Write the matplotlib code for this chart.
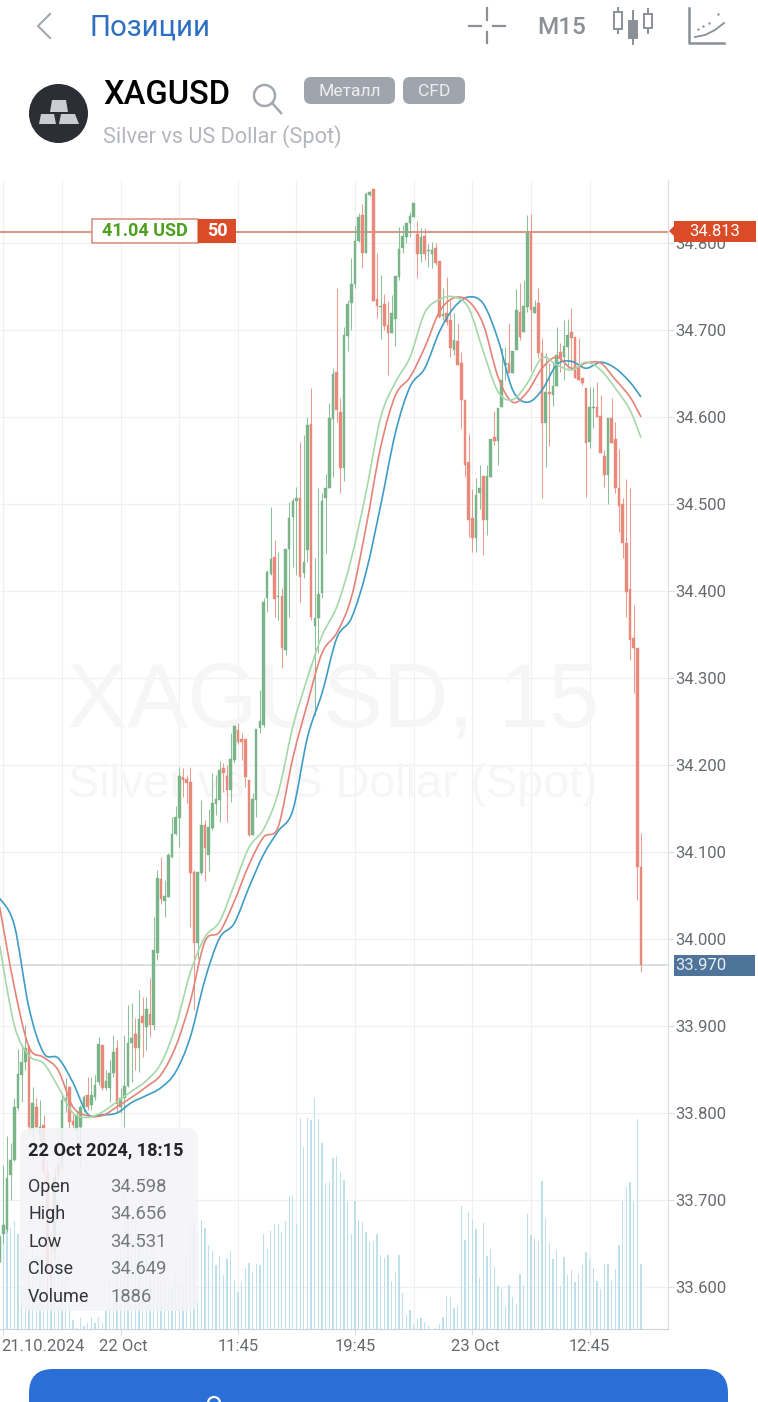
import numpy as np
import matplotlib
matplotlib.use('Agg')
import matplotlib.pyplot as plt
from matplotlib.patches import Circle, FancyBboxPatch, PathPatch, Polygon, Rectangle
from matplotlib.path import Path
from matplotlib.transforms import ScaledTranslation

plt.rcParams['font.family'] = ['Roboto', 'DejaVu Sans']

# candles, one per 15 minutes
opens = [33.629,33.661,33.666,33.729,33.746,33.806,33.844,33.859,33.876,33.781,
	33.807,33.775,33.786,33.732,33.620,33.643,33.740,33.740,33.814,33.830,
	33.791,33.781,33.784,33.807,33.821,33.809,33.818,33.836,33.878,33.829,
	33.829,33.846,33.875,33.807,33.817,33.831,33.881,33.891,33.875,33.912,
	33.899,33.914,33.901,33.984,34.069,34.044,34.048,34.094,34.121,34.139,
	34.186,34.184,34.180,34.077,33.995,34.076,34.131,34.097,34.128,34.155,
	34.160,34.197,34.187,34.171,34.206,34.240,34.230,34.230,34.183,34.120,
	34.160,34.243,34.246,34.392,34.420,34.439,34.393,34.394,34.332,34.448,
	34.485,34.503,34.507,34.421,34.447,34.592,34.360,34.369,34.398,34.507,
	34.518,34.598,34.652,34.606,34.541,34.693,34.731,34.753,34.802,34.832,
	34.789,34.855,34.862,34.736,34.726,34.730,34.706,34.697,34.713,34.761,
	34.794,34.807,34.823,34.830,34.810,34.787,34.808,34.791,34.787,34.794,
	34.779,34.716,34.720,34.711,34.677,34.687,34.662,34.620,34.548,34.484,
	34.461,34.513,34.532,34.482,34.531,34.577,34.572,34.611,34.660,34.662,
	34.651,34.677,34.721,34.698,34.726,34.812,34.720,34.731,34.674,34.593,
	34.629,34.625,34.636,34.675,34.669,34.680,34.698,34.692,34.656,34.645,
	34.633,34.571,34.610,34.611,34.601,34.555,34.533,34.599,34.575,34.518,
	34.500,34.455,34.402,34.346,34.335,34.083]
highs = [33.660,33.740,33.774,33.766,33.817,33.874,33.879,33.901,33.878,33.830,
	33.817,33.815,33.798,33.746,33.654,33.739,33.781,33.821,33.840,33.831,
	33.801,33.804,33.809,33.821,33.841,33.841,33.844,33.887,33.878,33.849,
	33.861,33.890,33.884,33.829,33.890,33.924,33.927,33.909,33.941,33.933,
	33.933,33.955,34.025,34.079,34.094,34.068,34.099,34.140,34.153,34.198,
	34.197,34.189,34.198,34.079,34.077,34.160,34.137,34.149,34.191,34.189,
	34.205,34.202,34.200,34.237,34.246,34.248,34.237,34.230,34.183,34.168,
	34.241,34.286,34.392,34.424,34.497,34.459,34.445,34.403,34.448,34.502,
	34.507,34.520,34.571,34.579,34.600,34.633,34.438,34.518,34.513,34.534,
	34.616,34.656,34.748,34.622,34.704,34.735,34.783,34.820,34.835,34.845,
	34.859,34.860,34.862,34.789,34.763,34.741,34.733,34.740,34.762,34.818,
	34.821,34.823,34.836,34.846,34.825,34.817,34.817,34.799,34.801,34.800,
	34.779,34.748,34.761,34.735,34.720,34.708,34.675,34.620,34.580,34.517,
	34.530,34.545,34.532,34.545,34.575,34.607,34.610,34.679,34.681,34.708,
	34.676,34.747,34.754,34.758,34.832,34.833,34.735,34.748,34.691,34.674,
	34.662,34.663,34.704,34.685,34.711,34.713,34.725,34.692,34.691,34.645,
	34.633,34.634,34.634,34.640,34.625,34.562,34.599,34.622,34.594,34.563,
	34.507,34.529,34.518,34.384,34.335,34.122]
lows = [33.629,33.651,33.663,33.700,33.745,33.803,33.813,33.849,33.775,33.746,
	33.781,33.752,33.729,33.585,33.585,33.631,33.711,33.735,33.801,33.781,
	33.781,33.758,33.738,33.801,33.803,33.803,33.815,33.832,33.827,33.827,
	33.813,33.841,33.801,33.800,33.784,33.830,33.836,33.849,33.847,33.864,
	33.872,33.887,33.895,33.976,34.040,34.025,34.048,34.093,34.120,34.106,
	34.163,34.156,34.014,33.918,33.977,34.074,34.067,34.078,34.125,34.143,
	34.135,34.169,34.135,34.158,34.202,34.224,34.206,34.175,34.118,34.120,
	34.140,34.237,34.244,34.376,34.418,34.370,34.367,34.312,34.326,34.370,
	34.428,34.418,34.387,34.415,34.433,34.367,34.257,34.329,34.392,34.444,
	34.518,34.531,34.594,34.513,34.527,34.676,34.700,34.748,34.801,34.771,
	34.789,34.854,34.733,34.714,34.690,34.700,34.648,34.697,34.682,34.757,
	34.789,34.800,34.807,34.830,34.760,34.778,34.780,34.772,34.771,34.775,
	34.714,34.711,34.706,34.669,34.671,34.660,34.586,34.531,34.462,34.445,
	34.445,34.494,34.441,34.464,34.531,34.568,34.545,34.611,34.642,34.651,
	34.651,34.677,34.689,34.698,34.721,34.653,34.720,34.668,34.507,34.543,
	34.567,34.613,34.636,34.652,34.642,34.656,34.657,34.645,34.642,34.637,
	34.508,34.564,34.587,34.600,34.559,34.520,34.500,34.570,34.513,34.468,
	34.438,34.370,34.321,34.283,34.045,33.962]
closes = [33.658,33.671,33.725,33.746,33.807,33.845,33.859,33.875,33.784,33.812,
	33.784,33.784,33.732,33.620,33.608,33.726,33.729,33.815,33.817,33.790,
	33.786,33.797,33.807,33.818,33.807,33.821,33.832,33.879,33.829,33.837,
	33.846,33.870,33.810,33.817,33.831,33.880,33.886,33.875,33.908,33.904,
	33.919,33.901,33.987,34.070,34.046,34.049,34.097,34.121,34.140,34.187,
	34.183,34.179,34.076,33.995,34.077,34.131,34.105,34.129,34.156,34.161,
	34.194,34.191,34.171,34.207,34.245,34.226,34.226,34.186,34.120,34.161,
	34.241,34.251,34.387,34.422,34.437,34.391,34.394,34.335,34.448,34.484,
	34.503,34.507,34.416,34.433,34.591,34.370,34.369,34.397,34.503,34.518,
	34.599,34.649,34.608,34.541,34.694,34.730,34.753,34.802,34.830,34.789,
	34.856,34.859,34.733,34.728,34.728,34.705,34.697,34.720,34.762,34.793,
	34.808,34.823,34.831,34.846,34.787,34.807,34.787,34.792,34.792,34.777,
	34.715,34.718,34.709,34.679,34.689,34.660,34.620,34.545,34.482,34.461,
	34.510,34.518,34.482,34.532,34.575,34.572,34.610,34.642,34.662,34.651,
	34.676,34.723,34.692,34.728,34.812,34.723,34.726,34.674,34.593,34.629,
	34.626,34.636,34.671,34.668,34.682,34.694,34.691,34.645,34.642,34.639,
	34.570,34.611,34.611,34.600,34.559,34.533,34.599,34.570,34.518,34.498,
	34.455,34.399,34.344,34.335,34.083,33.970]
volumes = [1133,1133,1077,1114,1188,1052,875,949,765,1059,
	802,802,949,912,728,912,838,691,765,324,
	103,11,121,29,66,132,66,132,66,213,
	581,765,802,1059,1500,1243,1206,1206,1059,912,
	912,802,912,765,544,691,452,452,618,471,
	489,802,1188,1177,1077,1206,1114,923,864,702,
	802,592,776,864,537,404,515,673,728,629,
	721,702,1052,882,1085,1162,1162,1066,1195,1463,
	1478,1162,2328,2004,2328,2302,2552,2317,2052,1611,
	1618,1886,1905,1732,1640,1401,1048,1408,1199,1177,
	1070,956,974,1048,813,783,813,526,625,813,
	397,158,206,59,114,121,77,37,5,11,
	59,132,368,357,228,257,1353,985,1291,1199,
	1107,563,1169,809,886,684,471,445,250,489,
	349,279,610,489,1272,1041,996,967,1636,1221,
	949,776,875,471,794,599,655,515,610,702,
	846,776,673,526,445,713,721,544,666,927,
	1408,1570,1622,1408,2320,713]

# the three moving averages, read at every fourth bar and at the last one
ma_bars = list(range(0, 173, 4)) + [175]
ma_blue = [34.047,34.016,33.921,33.869,33.863,33.835,33.799,33.798,33.800,33.812,
	33.820,33.829,33.847,33.887,33.953,34.001,34.018,34.059,34.097,34.124,
	34.148,34.232,34.283,34.346,34.369,34.422,34.499,34.582,34.635,34.656,
	34.698,34.726,34.738,34.730,34.689,34.631,34.617,34.631,34.660,34.664,
	34.656,34.663,34.656,34.640,34.623]
ma_red = [34.037,33.945,33.876,33.864,33.849,33.807,33.797,33.797,33.807,33.818,
	33.830,33.844,33.876,33.928,33.997,34.008,34.043,34.085,34.117,34.129,
	34.208,34.271,34.329,34.352,34.393,34.474,34.566,34.625,34.646,34.680,
	34.721,34.737,34.733,34.706,34.646,34.617,34.629,34.656,34.669,34.656,
	34.662,34.662,34.643,34.623,34.600]
ma_green = [33.993,33.901,33.866,33.857,33.830,33.800,33.795,33.801,33.813,33.825,
	33.837,33.857,33.899,33.961,34.002,34.020,34.062,34.105,34.126,34.168,
	34.244,34.300,34.349,34.382,34.438,34.514,34.600,34.640,34.669,34.720,
	34.735,34.738,34.725,34.675,34.629,34.620,34.639,34.668,34.660,34.654,
	34.663,34.654,34.633,34.608,34.576]

price_ticks = [33.6,33.7,33.8,33.9,34.0,34.1,34.2,34.3,34.4,34.5,34.6,34.7,34.8]
time_ticks = [1,33,65,97,129,161]
time_labels = ['21.10.2024','22 Oct','11:45','19:45','23 Oct','12:45']
grid_bars = [1,17,33,49,65,81,97,113,129,145,161]
order_price = 34.813
last_price = 33.970
info_names = ['Open','High','Low','Close','Volume']
info_values = ['34.598','34.656','34.531','34.649','1886']

W, H = 758, 1402
fig = plt.figure(figsize=(W/100, H/100), dpi=100, facecolor='white')

def rect_px(x0, y0, x1, y1):
	return [x0/W, 1-y1/H, (x1-x0)/W, (y1-y0)/H]

def smooth_line(ax, xs, ys, color):
	# the app draws its averages as curves, so bend the line through the read points
	xs = np.array(xs, dtype=float)
	ys = np.array(ys, dtype=float)
	verts = [(xs[0], ys[0])]
	codes = [Path.MOVETO]
	for i in range(len(xs)-1):
		a = max(i-1, 0)
		b = min(i+2, len(xs)-1)
		verts.append((xs[i]+(xs[i+1]-xs[a])/6, ys[i]+(ys[i+1]-ys[a])/6))
		verts.append((xs[i+1]-(xs[b]-xs[i])/6, ys[i+1]-(ys[b]-ys[i])/6))
		verts.append((xs[i+1], ys[i+1]))
		codes += [Path.CURVE4]*3
	ax.add_patch(PathPatch(Path(verts, codes), fc='none', ec=color, lw=1.2, zorder=4))

# price axes: chart area runs from y=180 to y=1329, x=0 to x=668
CX0, CY0, CX1, CY1 = 0, 180, 668, 1329
ax = fig.add_axes(rect_px(CX0, CY0, CX1, CY1))
ax.set_xlim((CX0+0.37)/3.665, (CX1+0.37)/3.665)
ax.set_ylim(34.8-(CY1-243)/870, 34.8-(CY0-243)/870)
ax.set_facecolor('white')
for s in ['top','left']:
	ax.spines[s].set_visible(False)
ax.spines['right'].set_color('#d9dde1')
ax.spines['bottom'].set_color('#cfd3d7')
ax.yaxis.tick_right()
ax.set_yticks(price_ticks)
ax.set_yticklabels(['%.3f' % p for p in price_ticks])
ax.set_xticks(time_ticks)
ax.set_xticklabels(time_labels)
ax.tick_params(axis='both', length=4, width=0.8, color='#d9dde1', labelcolor='#666a6e', labelsize=12)
ax.tick_params(axis='y', pad=1.5)
ax.tick_params(axis='x', pad=3)
xlabels = ax.get_xticklabels()
xlabels[0].set_ha('left')
xlabels[0].set_transform(xlabels[0].get_transform()+ScaledTranslation(-2/100, 0, fig.dpi_scale_trans))
for k in [1, 4]:
	xlabels[k].set_transform(xlabels[k].get_transform()+ScaledTranslation(3/100, 0, fig.dpi_scale_trans))
ax.hlines(price_ticks, *ax.get_xlim(), color='#f0f0f1', lw=0.9, zorder=0)
ax.vlines(grid_bars, *ax.get_ylim(), color='#f0f0f1', lw=0.9, zorder=0)

# watermark
ax.text(0.1, 0.5448, 'XAGUSD, 15', transform=ax.transAxes, family='Liberation Sans',
	fontsize=65, color='#f6f6f6', va='center', ha='left', zorder=0.5)
ax.text(0.1015, 0.4735, 'Silver vs US Dollar (Spot)', transform=ax.transAxes, family='Liberation Sans',
	fontsize=33.7, color='#f6f6f6', va='center', ha='left', zorder=0.5)

# volume shares the same box with its own scale, 1 px is about 11 lots
axv = fig.add_axes(rect_px(CX0, CY0, CX1, CY1), sharex=ax)
axv.patch.set_alpha(0)
axv.set_ylim(0, (CY1-CY0)*11.03)
axv.axis('off')
bars = np.arange(len(opens))
axv.bar(bars, volumes, width=0.36, color='#bde0ea', linewidth=0, zorder=1)

# second axes on top for candles and lines
axc = fig.add_axes(rect_px(CX0, CY0, CX1, CY1), sharex=ax, sharey=ax)
axc.patch.set_alpha(0)
axc.axis('off')
axc.axhline(last_price, color='#d0d6dc', lw=1.1, zorder=1)
axc.axhline(order_price, color='#d98c7a', lw=1.3, zorder=1)

o = np.array(opens)
c = np.array(closes)
up = c >= o
colors = np.where(up, '#7ab589', '#e8897a')
axc.vlines(bars, lows, highs, colors=list(colors), lw=0.75, alpha=0.85, zorder=2)
axc.bar(bars, np.abs(c-o), bottom=np.minimum(o, c), width=0.72, color=list(colors),
	edgecolor=list(colors), linewidth=0.3, zorder=3)
smooth_line(axc, ma_bars, ma_blue, '#3f9cc4')
smooth_line(axc, ma_bars, ma_red, '#e58378')
smooth_line(axc, ma_bars, ma_green, '#a5d8a8')

# overlay in pixel coordinates for the app's header, tooltip and labels
ui = fig.add_axes([0, 0, 1, 1])
ui.set_xlim(0, W)
ui.set_ylim(H, 0)
ui.axis('off')
ui.patch.set_alpha(0)

def rbox(x0, y0, x1, y1, r, **kw):
	p = FancyBboxPatch((x0+r, y0+r), x1-x0-2*r, y1-y0-2*r, boxstyle='round,pad=%f,rounding_size=%f' % (r, r), **kw)
	ui.add_patch(p)

GREY = '#a3a7ae'
ICON = '#8b9097'
# top bar
ui.plot([50, 38, 50], [14, 26, 38], color=GREY, lw=1.5)
ui.text(90, 28, 'Позиции', color='#2d6fc0', fontsize=21.2, va='center')
for xs, ys in [([469,481],[25.5,25.5]), ([493,505],[25.5,25.5]), ([487,487],[8,20]), ([487,487],[32,43])]:
	ui.plot(xs, ys, color=ICON, lw=1.6)
ui.text(537, 28, 'M15', color=ICON, fontsize=17.5, va='center', weight='medium')
# candle icon
for cx, y0, y1, yh, yl, fill in [(618,12,29,8,33,False), (633,21,38,11,44,True), (648,14,28,9,33,False)]:
	ui.plot([cx,cx],[yh,yl], color=ICON, lw=1.4)
	ui.add_patch(Rectangle((cx-4,y0), 8, y1-y0, fc=ICON if fill else 'white', ec=ICON, lw=1.4, zorder=3))
# indicator icon
ui.plot([689,689,724],[8,43,43], color=ICON, lw=1.8)
ui.plot([695,705,715,724],[37,35,30,23], color=ICON, lw=1.3)
ui.scatter([698,703,709,718],[29,26,23,14], s=3, color=ICON, linewidths=0)

# instrument header
ui.add_patch(Circle((58.5,113.5), 29.5, fc='#2b2e35', ec='none'))
for pts in [[(52,100),(66,100),(68,112),(50,112)], [(41,114),(54,114),(56,124),(39,124)], [(61,114),(75,114),(79,124),(59,124)]]:
	ui.add_patch(Polygon(pts, fc='#c9cdd2', ec='none'))
ui.text(103, 95, 'XAGUSD', color='black', fontsize=23.5, va='center', weight='medium')
ui.add_patch(Circle((264.5,95.5), 10.5, fc='none', ec=GREY, lw=1.8))
ui.plot([272,281],[103,113], color=GREY, lw=1.8)
rbox(304, 77, 395, 104, 7, fc='#a0a4ad', ec='none')
rbox(403, 77, 465, 104, 7, fc='#a0a4ad', ec='none')
ui.text(349.5, 91, 'Металл', color='#eceef0', fontsize=12.6, ha='center', va='center')
ui.text(434, 91, 'CFD', color='#eceef0', fontsize=12.6, ha='center', va='center')
ui.text(103, 137, 'Silver vs US Dollar (Spot)', color='#b3b6bb', fontsize=15.7, va='center')

# order tag on the line
ui.add_patch(Rectangle((92,219), 106, 24, fc='white', ec='#d98c7a', lw=1.1, zorder=5))
ui.add_patch(Rectangle((198,219), 38, 24, fc='#dc4b27', ec='none', zorder=5))
ui.text(144.5, 231, '41.04 USD', color='#4f9f1e', fontsize=13, weight='bold', ha='center', va='center', zorder=6)
ui.text(217, 231, '50', color='white', fontsize=13, weight='bold', ha='center', va='center', zorder=6)

# price labels on the axis
ui.add_patch(Polygon([(669,231),(674,226),(674,221),(756,221),(756,242),(674,242),(674,236)], fc='#dc4b27', ec='none', zorder=5))
ui.text(715, 232, '%.3f' % order_price, color='white', fontsize=12, ha='center', va='center', zorder=6)
ui.add_patch(Rectangle((674,955), 81, 20.5, fc='#4f7499', ec='none', zorder=5))
ui.text(675, 965.5, '%.3f' % last_price, color='#e8eef4', fontsize=12, ha='left', va='center', zorder=6)

# tooltip
rbox(20, 1128, 198, 1311, 12, fc='#f4f4f8', ec='none', alpha=0.88, zorder=5)
ui.text(28, 1150, '22 Oct 2024, 18:15', color='#222427', fontsize=13.1, weight='bold', va='center', zorder=6)
for n, (name, val) in enumerate(zip(info_names, info_values)):
	yy = 1187+27.4*n
	ui.text(28, yy, name, color='#333538', fontsize=13, va='center', zorder=6)
	ui.text(110, yy, val, color='#75787e', fontsize=13.2, va='center', zorder=6)

# button at the bottom, cut off by the screen
rbox(29, 1369, 728, 1440, 24, fc='#2a6fd8', ec='none')
ui.add_patch(Circle((214,1403), 6, fc='none', ec='white', lw=1.6))

fig.savefig('out.png', dpi=100)
